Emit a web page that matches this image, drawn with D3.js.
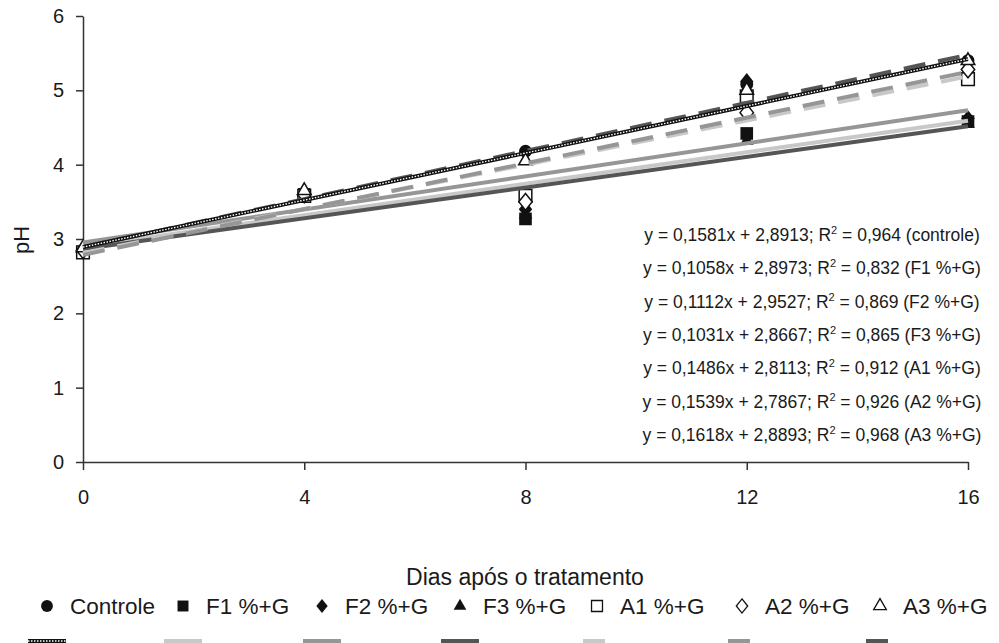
<!DOCTYPE html>
<html>
<head>
<meta charset="utf-8">
<script src="https://d3js.org/d3.v7.min.js"></script>
<style>
  body { margin: 0; background: #fff; }
  svg text { font-family: "Liberation Sans", Arial, sans-serif; fill: #1a1a1a; }
</style>
</head>
<body>
<svg id="chart" width="999" height="643"></svg>
<script>
// dias de avaliação
const days = [0, 4, 8, 12, 16];
const yTicks = [0, 1, 2, 3, 4, 5, 6];
const xTicks = [0, 4, 8, 12, 16];

const names = ['Controle', 'F1 %+G', 'F2 %+G', 'F3 %+G', 'A1 %+G', 'A2 %+G', 'A3 %+G'];
const tags = ['controle', 'F1 %+G', 'F2 %+G', 'F3 %+G', 'A1 %+G', 'A2 %+G', 'A3 %+G'];

const controle = [2.85, 3.60, 4.18, 5.08, 5.40];
const f1 = [2.82, 3.60, 3.27, 4.42, 4.58];
const f2 = [2.85, 3.62, 3.40, 5.12, 4.62];
const f3 = [2.85, 3.62, 3.33, 4.32, 4.55];
const a1 = [2.82, 3.58, 3.58, 4.92, 5.15];
const a2 = [2.85, 3.60, 3.50, 4.70, 5.28];
const a3 = [2.88, 3.65, 4.05, 5.00, 5.40];

// regressões lineares
const slopes = [0.1581, 0.1058, 0.1112, 0.1031, 0.1486, 0.1539, 0.1618];
const intercepts = [2.8913, 2.8973, 2.9527, 2.8667, 2.8113, 2.7867, 2.8893];
const r2 = ['0,964', '0,832', '0,869', '0,865', '0,912', '0,926', '0,968'];

const values = [controle, f1, f2, f3, a1, a2, a3];

// losango mais largo que o do d3
const diamondWide = {
  draw(ctx, size) {
    const w = Math.sqrt(size) * 0.5, h = Math.sqrt(size) * 0.62;
    ctx.moveTo(0, -h); ctx.lineTo(w, 0); ctx.lineTo(0, h); ctx.lineTo(-w, 0); ctx.closePath();
  }
};
const symbols = [d3.symbolCircle, d3.symbolSquare, diamondWide, d3.symbolTriangle,
                 d3.symbolSquare, diamondWide, d3.symbolTriangle];
const markSize = [130, 160, 180, 80, 160, 180, 80];
const filled = [true, true, true, true, false, false, false];
const lineColor = ['#111', '#c8c8c8', '#969696', '#555', '#c8c8c8', '#969696', '#555'];
const dashed = [false, false, false, false, true, true, true];

const svg = d3.select('#chart');
const x = d3.scaleLinear().domain([0, 16]).range([83, 968]);
const y = d3.scaleLinear().domain([0, 6]).range([462, 16]);

// eixos
const gx = svg.append('g').attr('transform', 'translate(0,462)')
  .call(d3.axisBottom(x).tickValues(xTicks).tickFormat(d3.format('d'))
    .tickSize(8).tickPadding(20).tickSizeOuter(0));
const gy = svg.append('g').attr('transform', 'translate(83,0)')
  .call(d3.axisLeft(y).tickValues(yTicks).tickFormat(d3.format('d'))
    .tickSize(7).tickPadding(12).tickSizeOuter(0));
[gx, gy].forEach(g => {
  g.select('.domain').attr('stroke', '#333').attr('stroke-width', 1.5);
  g.selectAll('.tick line').attr('stroke', '#333').attr('stroke-width', 1.5);
  g.selectAll('.tick text').attr('font-size', 20).attr('fill', '#1a1a1a')
    .attr('font-family', '"Liberation Sans", Arial, sans-serif');
});

svg.append('text').attr('x', 525).attr('y', 585).attr('text-anchor', 'middle')
  .attr('font-size', 23).text('Dias após o tratamento');
svg.append('text').attr('transform', 'translate(29,240) rotate(-90)').attr('text-anchor', 'middle')
  .attr('font-size', 22).text('pH');

// marcadores
function symbolPath(i, size) {
  return d3.symbol().type(symbols[i]).size(size)();
}
values.forEach((vals, i) => {
  svg.append('g').selectAll('path').data(vals).enter().append('path')
    .attr('d', symbolPath(i, markSize[i]))
    .attr('transform', (d, j) => `translate(${x(days[j])},${y(d)})`)
    .attr('fill', filled[i] ? '#111' : '#fff')
    .attr('stroke', '#111').attr('stroke-width', filled[i] ? 0 : 1.5);
});

// linhas de tendência
function drawLine(g, i, x1, y1, x2, y2) {
  const l = g.append('line').attr('x1', x1).attr('y1', y1).attr('x2', x2).attr('y2', y2)
    .attr('stroke', lineColor[i]).attr('stroke-width', 4);
  if (dashed[i]) l.attr('stroke-dasharray', '22,13');
  if (i === 0) {
    g.append('line').attr('x1', x1).attr('y1', y1).attr('x2', x2).attr('y2', y2)
      .attr('stroke', '#fff').attr('stroke-width', 1.4).attr('stroke-dasharray', '1.5,1.5');
  }
}
const order = [1, 3, 2, 4, 5, 6, 0];
const gl = svg.append('g');
order.forEach(i => {
  drawLine(gl, i, x(0), y(intercepts[i]), x(16), y(intercepts[i] + slopes[i] * 16));
});

// equações
const eq = svg.append('g');
names.forEach((n, i) => {
  const t = eq.append('text').attr('x', 812).attr('y', 241 + i * 33.3)
    .attr('text-anchor', 'middle').attr('font-size', 17.5);
  const s = slopes[i].toFixed(4).replace('.', ',');
  const b = intercepts[i].toFixed(4).replace('.', ',');
  t.append('tspan').text(`y = ${s}x + ${b}; R`);
  t.append('tspan').attr('font-size', 11).attr('dy', -7).text('2');
  t.append('tspan').attr('dy', 7).text(` = ${r2[i]} (${tags[i]})`);
});

// legenda
const legX = [47, 183, 322, 460, 597, 742, 880];
const legSize = [110, 120, 130, 70, 120, 130, 70];
const lg = svg.append('g');
names.forEach((n, i) => {
  lg.append('path').attr('d', symbolPath(i, legSize[i]))
    .attr('transform', `translate(${legX[i]},606)`)
    .attr('fill', filled[i] ? '#111' : '#fff')
    .attr('stroke', '#111').attr('stroke-width', filled[i] ? 0 : 1.3);
  lg.append('text').attr('x', legX[i] + 23).attr('y', 614).attr('font-size', 22.5).text(n);
  const half = i < 4 ? 19 : 14;
  drawLine(lg, i, legX[i] - half, 641, legX[i] + half, 641);
});
</script>
</body>
</html>
